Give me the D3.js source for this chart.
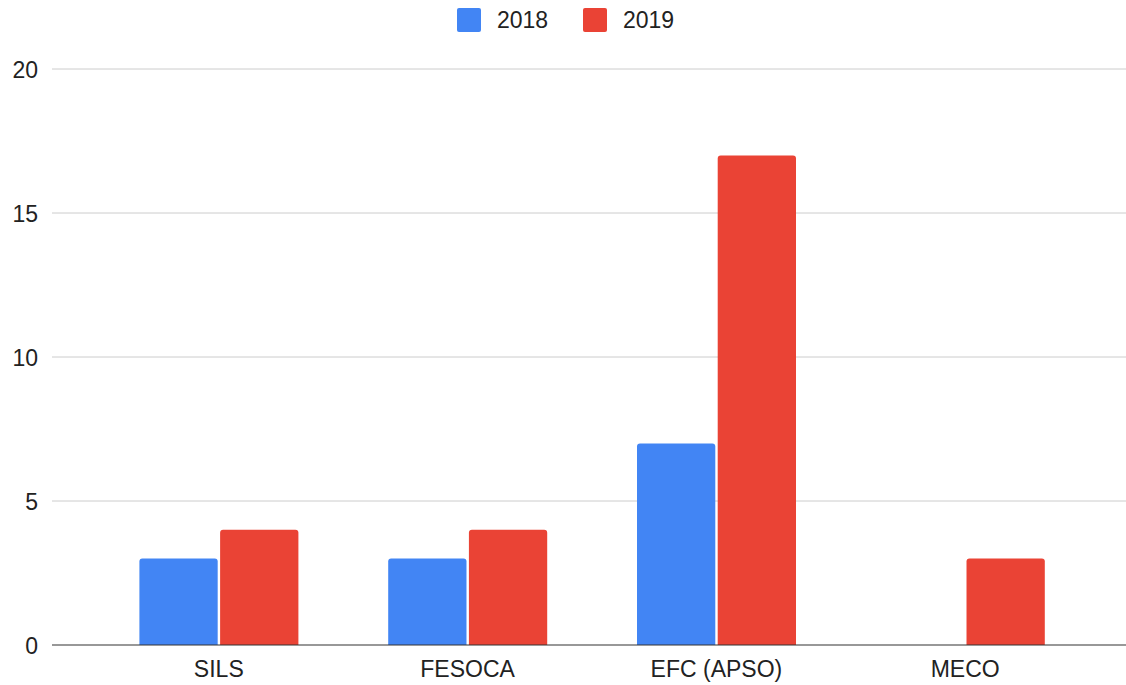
<!DOCTYPE html>
<html><head><meta charset="utf-8">
<script src="https://cdn.jsdelivr.net/npm/d3@7"></script>
<style>body{margin:0;background:#fff}svg{display:block}</style>
</head><body>
<svg id="c" width="1126" height="685"></svg>
<script>
const categories = ["SILS", "FESOCA", "EFC (APSO)", "MECO"];
const seriesNames = ["2018", "2019"];
const values2018 = [3, 3, 7, null];
const values2019 = [4, 4, 17, 3];
const yTicks = [0, 5, 10, 15, 20];
const colors = ["#4285F4", "#EA4335"];

const svg = d3.select("#c");
const font = "'Liberation Sans', Arial, sans-serif";
const W = 1126, H = 685;
const y = d3.scaleLinear().domain([0, 20]).range([645, 69]);
const x = d3.scaleBand().domain(categories).range([94.4, 1089.6]).padding(0);
const xs = d3.scaleBand().domain(seriesNames).range([45, 204]).paddingInner(0.03);

// gridlines
svg.append("g").selectAll("line").data(yTicks.filter(d => d !== 0)).join("line")
  .attr("x1", 52).attr("x2", W).attr("y1", d => y(d)).attr("y2", d => y(d))
  .attr("stroke", "#cccccc").attr("stroke-width", 1);

// y labels
const yAxis = d3.axisLeft(y).tickValues(yTicks).tickSize(0).tickPadding(0);
const ga = svg.append("g").attr("transform", "translate(38,0)").call(yAxis);
ga.select(".domain").remove();
ga.selectAll("text").attr("font-family", font).attr("font-size", 23).attr("fill", "#222").attr("dy", "0.35em");

// bars
const data = [values2018, values2019];
const rr = 3;
function barPath(x0, w, y0, y1) {
  const r = Math.min(rr, (y0 - y1));
  return `M${x0},${y0}V${y1 + r}Q${x0},${y1} ${x0 + r},${y1}H${x0 + w - r}Q${x0 + w},${y1} ${x0 + w},${y1 + r}V${y0}Z`;
}
seriesNames.forEach((s, si) => {
  svg.append("g").selectAll("path")
    .data(categories.map((c, i) => ({c, v: data[si][i]})).filter(d => d.v != null && d.v > 0))
    .join("path")
    .attr("d", d => barPath(x(d.c) + xs(s), xs.bandwidth(), y(0), y(d.v)))
    .attr("fill", colors[si]);
});

// baseline
svg.append("line").attr("x1", 52).attr("x2", W).attr("y1", y(0)).attr("y2", y(0))
  .attr("stroke", "#333").attr("stroke-width", 1.2);

// x labels
const xAxis = d3.axisBottom(x).tickSize(0).tickPadding(0);
const gx = svg.append("g").attr("transform", `translate(0,${y(0)})`).call(xAxis);
gx.select(".domain").remove();
gx.selectAll("text").attr("font-family", font).attr("font-size", 23).attr("fill", "#222").attr("dy", null).attr("y", 32);

// legend
const legend = svg.append("g");
const lx = [457, 583];
seriesNames.forEach((s, i) => {
  legend.append("rect").attr("x", lx[i]).attr("y", 8).attr("width", 24).attr("height", 24).attr("rx", 2).attr("fill", colors[i]);
  legend.append("text").attr("x", lx[i] + 40).attr("y", 28).attr("font-family", font).attr("font-size", 23).attr("fill", "#222").text(s);
});
</script>
</body></html>
